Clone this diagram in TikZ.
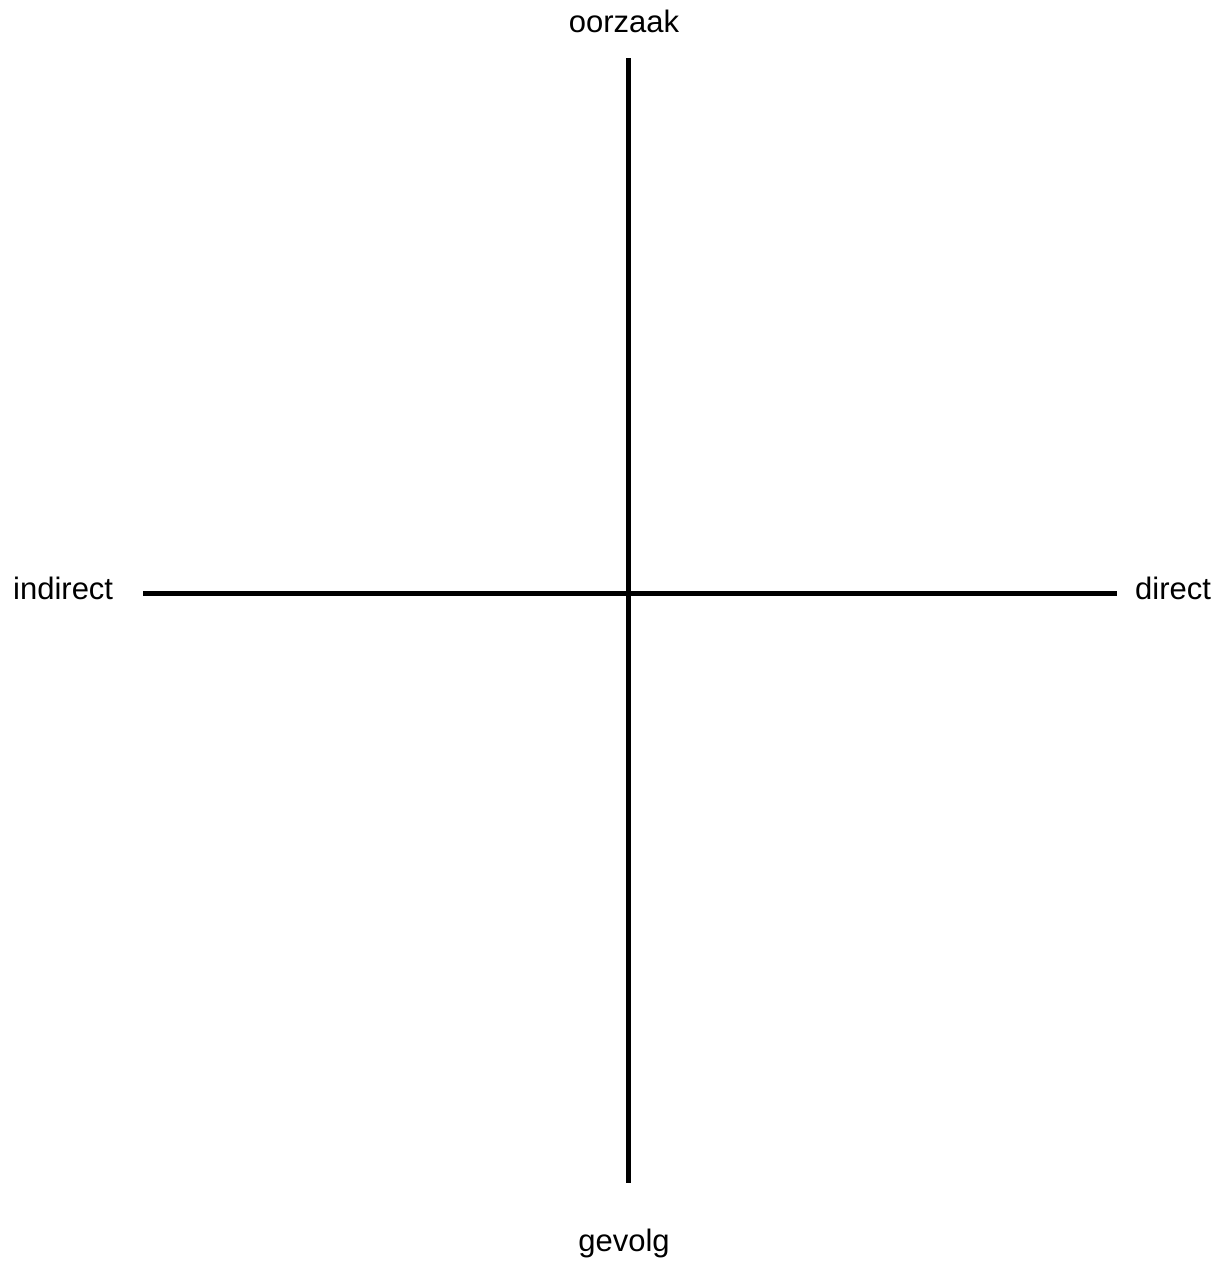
\documentclass[tikz,border=0pt]{standalone}
\usepackage{fontspec}
\setmainfont{Liberation Sans}
\begin{document}
\begin{tikzpicture}[x=1pt,y=-1pt,
  axis/.style={line width=5pt},
  lbl/.style={font=\fontsize{31}{37}\selectfont, inner sep=0pt, anchor=base}]
\useasboundingbox (0,0) rectangle (1223,1261);
\coordinate (top) at (628,58);
\coordinate (bot) at (628,1183);
\coordinate (lft) at (143,593.5);
\coordinate (rgt) at (1117,593.5);
\draw[axis] (top) -- (bot);
\draw[axis] (lft) -- (rgt);
\node[lbl] (oorzaak) at (624,32) {oorzaak};
\node[lbl] (gevolg) at (624,1251) {gevolg};
\node[lbl, anchor=base west] (indirect) at (13,599) {indirect};
\node[lbl, anchor=base west] (direct) at (1135,599) {direct};
\end{tikzpicture}
\end{document}
